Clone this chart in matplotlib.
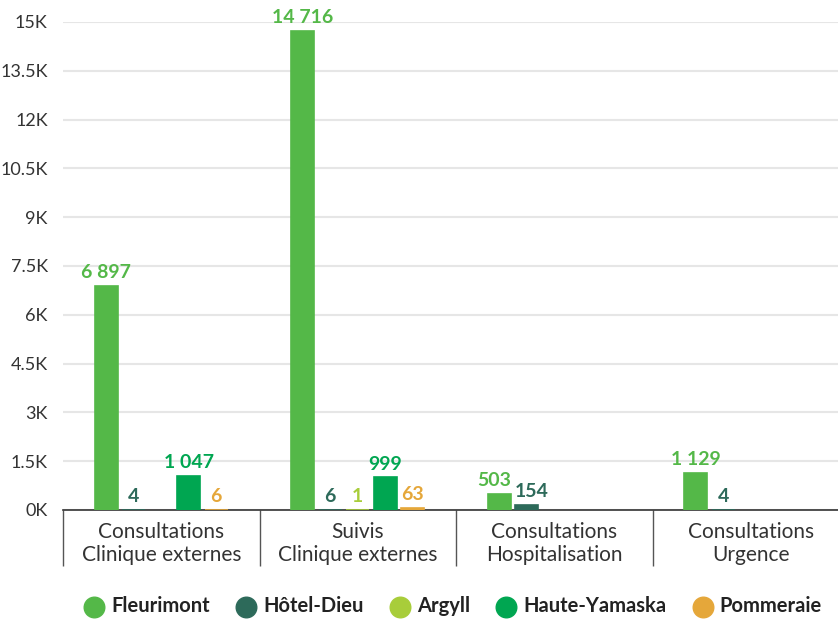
import matplotlib.pyplot as plt
import matplotlib.transforms as mtransforms
import numpy as np

categories = ["Consultations\nClinique externes", "Suivis\nClinique externes",
              "Consultations\nHospitalisation", "Consultations\nUrgence"]
series_names = ["Fleurimont", "Hôtel-Dieu", "Argyll", "Haute-Yamaska", "Pommeraie"]
fleurimont = [6897, 14716, 503, 1129]
hotel_dieu = [4, 6, 154, 4]
argyll = [None, 1, None, None]
haute_yamaska = [1047, 999, None, None]
pommeraie = [6, 63, None, None]
colors = ["#54b848", "#2d6a5a", "#a8cd3a", "#00a651", "#e5a73a"]
yticks = [0, 1500, 3000, 4500, 6000, 7500, 9000, 10500, 12000, 13500, 15000]
ytick_labels = ["0K", "1.5K", "3K", "4.5K", "6K", "7.5K", "9K", "10.5K", "12K", "13.5K", "15K"]

plt.rcParams['font.family'] = ['Lato', 'DejaVu Sans']

fig = plt.figure(figsize=(8.38, 6.22), dpi=100)
ax = fig.add_axes([63 / 838, 112 / 622, 786 / 838, 488 / 622])

all_series = [fleurimont, hotel_dieu, argyll, haute_yamaska, pommeraie]
x = np.arange(len(categories))
slot = 0.14
bw = 0.118
labels_by_cat = {c: [] for c in range(len(categories))}
for i, (name, vals, col) in enumerate(zip(series_names, all_series, colors)):
    pos = x + (i - 2) * slot
    for c, (p, v) in enumerate(zip(pos, vals)):
        if v is None:
            continue
        ax.bar(p, v, width=bw, color=col, edgecolor=col, linewidth=1.2, zorder=3)
        txt = "{:,}".format(v).replace(",", " ")
        t = ax.text(p, v + 150, txt, ha="center", va="bottom", color=col,
                    fontsize=14, fontweight="bold", clip_on=False, zorder=4)
        labels_by_cat[c].append(t)
    ax.scatter([], [], s=220, color=col, label=name)

ax.set_xlim(-0.5, len(categories) - 0.5)
ax.set_ylim(0, 15000)
ax.set_yticks(yticks)
ax.set_yticklabels(ytick_labels)
ax.yaxis.grid(True, color="#e6e6e6", linewidth=1.5, zorder=0)
ax.tick_params(axis="y", length=0, pad=11, labelsize=13, labelcolor="#333333")

ax.set_xticks(x)
ax.set_xticklabels(categories, linespacing=1.15)
ax.set_xticks(np.arange(len(categories)) - 0.5, minor=True)
ax.tick_params(axis="x", which="major", length=0, pad=9, labelsize=15, labelcolor="#333333")
ax.tick_params(axis="x", which="minor", length=40, width=1, color="#555555")

for s in ["top", "right", "left"]:
    ax.spines[s].set_visible(False)
ax.spines["bottom"].set_color("#333333")
ax.spines["bottom"].set_linewidth(1.2)
ax.set_axisbelow(True)

fig.legend(loc="lower center", bbox_to_anchor=(453 / 838, -0.02), ncol=5, frameon=False,
           prop={"weight": "bold", "size": 14.5}, handlelength=1.0, handletextpad=0.35,
           columnspacing=1.3, labelcolor="#222222")

# push apart overlapping value labels
fig.canvas.draw()
r = fig.canvas.get_renderer()
for c, texts in labels_by_cat.items():
    for a, b in zip(texts[:-1], texts[1:]):
        ea = a.get_window_extent(r)
        eb = b.get_window_extent(r)
        over = ea.x1 - eb.x0 + 3
        if over > 0 and ea.y0 < eb.y1 and eb.y0 < ea.y1:
            a.set_transform(a.get_transform() + mtransforms.Affine2D().translate(-over / 2, 0))
            b.set_transform(b.get_transform() + mtransforms.Affine2D().translate(over / 2, 0))

fig.savefig("out.png", dpi=100)
